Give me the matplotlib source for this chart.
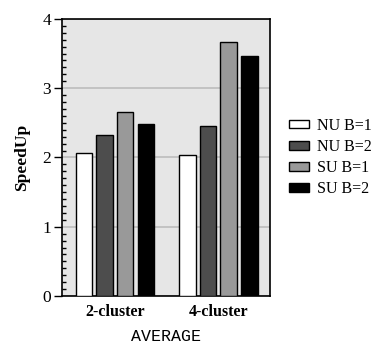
import matplotlib
matplotlib.use("Agg")
import matplotlib.pyplot as plt
import numpy as np
from matplotlib.ticker import MultipleLocator
from matplotlib.patches import Patch

plt.rcParams['font.family'] = ['Liberation Serif', 'DejaVu Serif']

categories = ["2-cluster", "4-cluster"]
series_names = ["NU B=1", "NU B=2", "SU B=1", "SU B=2"]
series_values = [
    [2.07, 2.04],
    [2.32, 2.45],
    [2.65, 3.66],
    [2.49, 3.46],
]
series_colors = ["#ffffff", "#4d4d4d", "#999999", "#000000"]

fig = plt.figure(figsize=(3.74, 3.44), dpi=100)
ax = fig.add_axes([0.166, 0.1395, 0.556, 0.8055])
ax.set_facecolor("#e6e6e6")

x = np.arange(len(categories))
width = 0.16
offsets = [-0.3, -0.1, 0.1, 0.3]
for vals, off, col in zip(series_values, offsets, series_colors):
    ax.bar(x + off, vals, width, color=col, edgecolor="black", linewidth=1.0, zorder=3)

ax.set_xlim(-0.51, 1.5)
ax.set_ylim(0, 4)
ax.yaxis.set_major_locator(MultipleLocator(1))
ax.yaxis.set_minor_locator(MultipleLocator(0.1))
ax.grid(axis="y", which="major", color="#bdbdbd", linewidth=1.2, zorder=1)
ax.tick_params(axis="y", which="major", direction="out", length=6, width=1, labelsize=12.5, pad=2)
ax.tick_params(axis="y", which="minor", direction="in", length=3, width=1)
ax.tick_params(axis="x", length=0, pad=6)
ax.set_xticks(x)
ax.set_xticklabels(categories, fontweight="bold", fontsize=11.5)
for s in ax.spines.values():
    s.set_linewidth(1.2)

ax.set_ylabel("SpeedUp", fontweight="bold", fontsize=12.5, labelpad=9)
ax.set_xlabel("AVERAGE", family=["Liberation Mono", "DejaVu Sans Mono"], fontsize=12, labelpad=6)

handles = [Patch(facecolor=c, edgecolor="black", linewidth=1.0) for c in series_colors]
fig.legend(handles, series_names, loc="center left", bbox_to_anchor=(0.772, 0.542),
           frameon=False, fontsize=11.5, handlelength=1.3, handleheight=0.45,
           handletextpad=0.5, labelspacing=0.33, borderpad=0, borderaxespad=0)

fig.savefig("out.png", dpi=100)
